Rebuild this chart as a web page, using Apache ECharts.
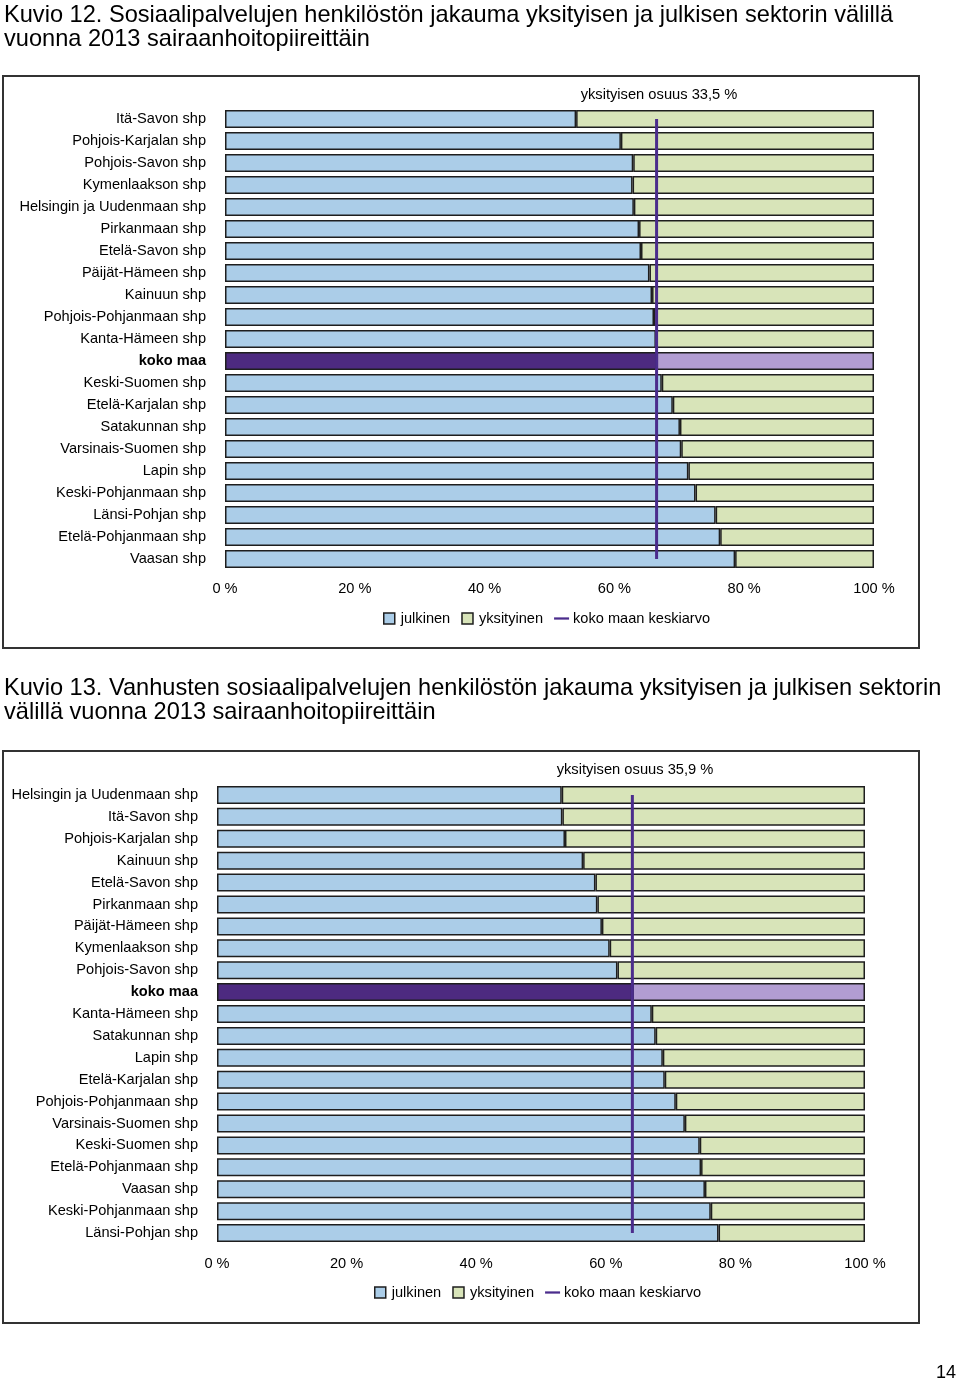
<!DOCTYPE html>
<html>
<head>
<meta charset="utf-8">
<script src="https://cdn.jsdelivr.net/npm/echarts@6/dist/echarts.min.js"></script>
<style>
html,body{margin:0;padding:0;background:#fff;}
#c{width:960px;height:1383px;}
</style>
</head>
<body>
<div id="c"></div>
<script>
// ---- Chart 1 data (Kuvio 12) ----
const title1 = "Kuvio 12. Sosiaalipalvelujen henkilöstön jakauma yksityisen ja julkisen sektorin välillä\nvuonna 2013 sairaanhoitopiireittäin";
const note1 = "yksityisen osuus 33,5 %";
const cats1 = ["Itä-Savon shp","Pohjois-Karjalan shp","Pohjois-Savon shp","Kymenlaakson shp","Helsingin ja Uudenmaan shp","Pirkanmaan shp","Etelä-Savon shp","Päijät-Hämeen shp","Kainuun shp","Pohjois-Pohjanmaan shp","Kanta-Hämeen shp","koko maa","Keski-Suomen shp","Etelä-Karjalan shp","Satakunnan shp","Varsinais-Suomen shp","Lapin shp","Keski-Pohjanmaan shp","Länsi-Pohjan shp","Etelä-Pohjanmaan shp","Vaasan shp"];
const pub1  = [54.1,61.0,62.9,62.8,63.0,63.8,64.1,65.4,65.8,66.1,66.4,66.5,67.3,69.0,70.1,70.3,71.4,72.5,75.6,76.3,78.6];
const priv1 = [45.9,39.0,37.1,37.2,37.0,36.2,35.9,34.6,34.2,33.9,33.6,33.5,32.7,31.0,29.9,29.7,28.6,27.5,24.4,23.7,21.4];
const avg1 = 66.5;

// ---- Chart 2 data (Kuvio 13) ----
const title2 = "Kuvio 13. Vanhusten sosiaalipalvelujen henkilöstön jakauma yksityisen ja julkisen sektorin\nvälillä vuonna 2013 sairaanhoitopiireittäin";
const note2 = "yksityisen osuus 35,9 %";
const cats2 = ["Helsingin ja Uudenmaan shp","Itä-Savon shp","Pohjois-Karjalan shp","Kainuun shp","Etelä-Savon shp","Pirkanmaan shp","Päijät-Hämeen shp","Kymenlaakson shp","Pohjois-Savon shp","koko maa","Kanta-Hämeen shp","Satakunnan shp","Lapin shp","Etelä-Karjalan shp","Pohjois-Pohjanmaan shp","Varsinais-Suomen shp","Keski-Suomen shp","Etelä-Pohjanmaan shp","Vaasan shp","Keski-Pohjanmaan shp","Länsi-Pohjan shp"];
const pub2  = [53.2,53.3,53.7,56.5,58.4,58.7,59.4,60.6,61.8,64.1,67.1,67.7,68.8,69.1,70.8,72.2,74.5,74.7,75.3,76.2,77.4];
const priv2 = [46.8,46.7,46.3,43.5,41.6,41.3,40.6,39.4,38.2,35.9,32.9,32.3,31.2,30.9,29.2,27.8,25.5,25.3,24.7,23.8,22.6];
const avg2 = 64.1;

const xTicks = [0,20,40,60,80,100];
const legendNames = ["julkinen","yksityinen","koko maan keskiarvo"];
const pageNo = "14";

// ---- styles ----
const FONT = "Liberation Sans, Arial, sans-serif";
const FS = 14.6;
const BLUE = "#abcde8", GREEN = "#d8e4b9", DPURP = "#4d2a80", LPURP = "#b29dd2", LINEC = "#4b2c8c", BORDER = "#1e1e1e";

function barData(vals, cats, special) {
  return vals.map((v, i) => cats[i] === "koko maa" ? {value: v, itemStyle: {color: special}} : v);
}

function build(idx, cats, pub, priv, avg, labelMargin) {
  const xAxis = {
    type: "value", gridIndex: idx, min: xTicks[0], max: xTicks[xTicks.length - 1], interval: 20,
    axisLine: {show: false}, axisTick: {show: false}, splitLine: {show: false},
    axisLabel: {formatter: "{value} %", color: "#000", fontSize: FS, fontFamily: FONT, margin: labelMargin}
  };
  const yAxis = {
    type: "category", gridIndex: idx, data: cats, inverse: true,
    axisLine: {show: false}, axisTick: {show: false},
    axisLabel: {
      color: "#000", fontSize: FS, fontFamily: FONT, margin: 19,
      formatter: v => v === "koko maa" ? "{b|" + v + "}" : v,
      rich: {b: {fontWeight: "bold", fontSize: FS, fontFamily: FONT, color: "#000"}}
    }
  };
  const series = [
    {name: legendNames[0], type: "bar", stack: "s" + idx, xAxisIndex: idx, yAxisIndex: idx,
     barWidth: 18, itemStyle: {color: BLUE, borderColor: BORDER, borderWidth: 1.5},
     data: barData(pub, cats, DPURP), z: 2},
    {name: legendNames[1], type: "bar", stack: "s" + idx, xAxisIndex: idx, yAxisIndex: idx,
     barWidth: 18, itemStyle: {color: GREEN, borderColor: BORDER, borderWidth: 1.5},
     data: barData(priv, cats, LPURP), z: 2},
    {name: legendNames[2], type: "line", xAxisIndex: idx, yAxisIndex: idx, symbol: "none",
     lineStyle: {color: LINEC, width: 3}, itemStyle: {color: LINEC}, z: 5,
     data: [[avg, cats[0]], [avg, cats[cats.length - 1]]]}
  ];
  return {xAxis, yAxis, series};
}

const c1 = build(0, cats1, pub1, priv1, avg1, 11);
const c2 = build(1, cats2, pub2, priv2, avg2, 12);

const sqIcon = "path://M0,0h10v10h-10z";
const lnIcon = "path://M0,0h20v3h-20z";
function legend(left, top) {
  return {
    left: left, top: top, orient: "horizontal", itemGap: 11, itemWidth: 15, itemHeight: 11,
    symbolKeepAspect: true, selectedMode: false,
    textStyle: {fontSize: FS, fontFamily: FONT, color: "#000", padding: [0, 0, 0, -1]},
    data: [
      {name: legendNames[0], icon: sqIcon, itemStyle: {color: BLUE, borderColor: BORDER, borderWidth: 1.5}},
      {name: legendNames[1], icon: sqIcon, itemStyle: {color: GREEN, borderColor: BORDER, borderWidth: 1.5}},
      {name: legendNames[2], icon: lnIcon, itemStyle: {color: LINEC, borderWidth: 0}}
    ]
  };
}

const titleStyle = {fontSize: 23.6, fontWeight: "normal", fontFamily: FONT, color: "#000", lineHeight: 24};
const noteStyle = {fontSize: 14.7, fontWeight: "normal", fontFamily: FONT, color: "#000"};

const option = {
  animation: false,
  backgroundColor: "#fff",
  title: [
    {text: title1, left: 4, top: 3, padding: 0, textStyle: titleStyle},
    {text: title2, left: 4, top: 676, padding: 0, textStyle: titleStyle},
    {text: note1, left: 654, top: 82, textAlign: "center", textStyle: noteStyle},
    {text: note2, left: 630, top: 757, textAlign: "center", textStyle: noteStyle}
  ],
  grid: [
    {left: 225, right: 86, top: 108, height: 462, containLabel: false},
    {left: 217, right: 95, top: 784, height: 460, containLabel: false}
  ],
  legend: [legend(378, 606), legend(369, 1280)],
  xAxis: [c1.xAxis, c2.xAxis],
  yAxis: [c1.yAxis, c2.yAxis],
  series: [...c1.series, ...c2.series],
  graphic: [
    {type: "rect", shape: {x: 3, y: 76, width: 916, height: 572}, style: {fill: "none", stroke: "#333", lineWidth: 2}, silent: true},
    {type: "rect", shape: {x: 3, y: 751, width: 916, height: 572}, style: {fill: "none", stroke: "#333", lineWidth: 2}, silent: true},
    {type: "text", x: 936, y: 1364, style: {text: pageNo, fontSize: 18, fontFamily: FONT, fill: "#000"}}
  ]
};

const chart = echarts.init(document.getElementById("c"), null, {renderer: "canvas"});
chart.setOption(option);
</script>
</body>
</html>
